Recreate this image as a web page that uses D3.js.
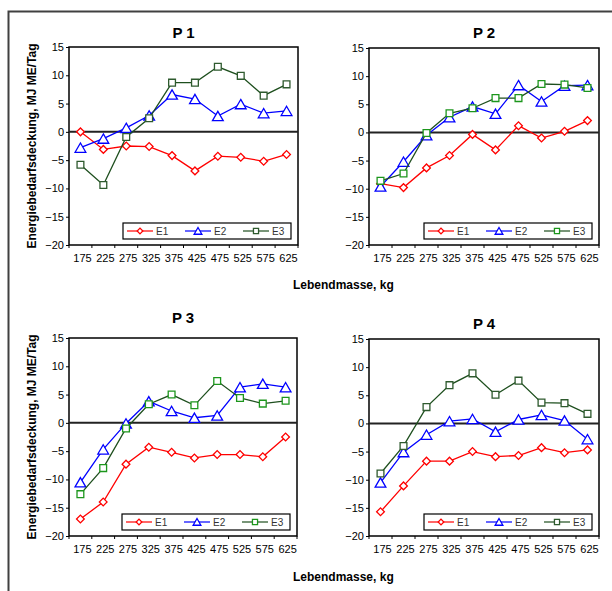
<!DOCTYPE html>
<html>
<head>
<meta charset="utf-8">
<script src="https://cdn.jsdelivr.net/npm/d3@7"></script>
<style>
  body { margin: 0; background: #fff; }
  svg text { font-family: "Liberation Sans", Arial, sans-serif; }
</style>
</head>
<body>
<div class="canvas"></div>
<script>
// data
const categories = ['175', '225', '275', '325', '375', '425', '475', '525', '575', '625'];
const yTicks = [15, 10, 5, 0, -5, -10, -15, -20];
const seriesNames = ['E1', 'E2', 'E3'];

const p1E1 = [0, -3.1, -2.5, -2.6, -4.2, -6.9, -4.3, -4.5, -5.2, -4.0];
const p1E2 = [-2.8, -1.2, 0.7, 2.9, 6.6, 5.8, 2.8, 4.9, 3.3, 3.7];
const p1E3 = [-5.8, -9.4, -0.9, 2.4, 8.7, 8.7, 11.5, 9.9, 6.4, 8.4];

const p2E1 = [-9.1, -9.8, -6.3, -4.1, -0.35, -3.1, 1.2, -1.0, 0.2, 2.1];
const p2E2 = [-9.6, -5.2, -0.5, 2.7, 4.6, 3.3, 8.4, 5.5, 8.3, 8.4];
const p2E3 = [-8.6, -7.3, -0.1, 3.4, 4.3, 6.1, 6.1, 8.6, 8.5, 7.9];

const p3E1 = [-17.0, -14.0, -7.3, -4.3, -5.2, -6.2, -5.6, -5.6, -6.0, -2.5];
const p3E2 = [-10.5, -4.7, -0.1, 3.8, 2.1, 0.9, 1.3, 6.3, 6.9, 6.3];
const p3E3 = [-12.6, -8.0, -1.0, 3.3, 5.0, 3.1, 7.4, 4.4, 3.4, 3.9];

const p4E1 = [-15.7, -11.1, -6.7, -6.7, -5.0, -5.9, -5.7, -4.3, -5.2, -4.7];
const p4E2 = [-10.5, -5.1, -2.0, 0.4, 0.8, -1.5, 0.7, 1.5, 0.5, -2.8];
const p4E3 = [-8.9, -4.0, 2.9, 6.8, 8.9, 5.1, 7.6, 3.7, 3.6, 1.7];

const W = 612, H = 591;

const svg = d3.select('.canvas')
    .append('svg')
        .attr('width', W)
        .attr('height', H);

// outer frame (top + left edge)
svg.append('path')
    .attr('d', `M8.5,${H} V11.5 H${W}`)
    .attr('fill', 'none')
    .attr('stroke', '#404040')
    .attr('stroke-width', 2);

const panels = [
    {title: 'P 1', data: [p1E1, p1E2, p1E3], left: 69, top: 47, w: 229, h: 198, titleY: 38, ylab: true, sq: '#2e5a2e'},
    {title: 'P 2', data: [p2E1, p2E2, p2E3], left: 369, top: 48, w: 230, h: 197, titleY: 38, ylab: false, sq: '#1c961c'},
    {title: 'P 3', data: [p3E1, p3E2, p3E3], left: 69, top: 338, w: 228, h: 198, titleY: 323, ylab: true, sq: '#1c961c'},
    {title: 'P 4', data: [p4E1, p4E2, p4E3], left: 369, top: 339, w: 230, h: 197, titleY: 329, ylab: false, sq: '#2e5a2e'}
];

const lineColors = ['#ff0000', '#0000ff', '#1e4f1e'];

// marker shapes (triangle moved so its box is centred on the point)
const diamond = d3.symbol().type(d3.symbolSquare).size(30)();
const triangle = d3.symbol().type(d3.symbolTriangle).size(50)();
const square = d3.symbol().type(d3.symbolSquare).size(46)();

function marker(sel, i, p) {
    if (i === 0) {
        sel.attr('d', diamond).attr('stroke', '#ff0000');
    } else if (i === 1) {
        sel.attr('d', triangle).attr('stroke', '#0000ff');
    } else {
        sel.attr('d', square).attr('stroke', p.sq);
    }
    sel.attr('fill', '#fff').attr('stroke-width', 1.3);
}

function markerShift(si) {
    return si === 0 ? ' rotate(45)' : si === 1 ? ' translate(0, 1.5)' : '';
}

panels.forEach(p => {
    const g = svg.append('g')
        .attr('transform', `translate(${p.left}, ${p.top})`);

    const x = d3.scaleBand()
        .domain(categories)
        .range([0, p.w]);

    const y = d3.scaleLinear()
        .domain([-20, 15])
        .range([p.h, 0]);

    // plot frame
    g.append('rect')
        .attr('width', p.w)
        .attr('height', p.h)
        .attr('fill', 'none')
        .attr('stroke', '#000')
        .attr('stroke-width', 1.5);

    // y axis
    const yAxis = d3.axisLeft(y)
        .tickValues(yTicks)
        .tickSize(3)
        .tickPadding(2);
    const yg = g.append('g').call(yAxis);
    yg.select('.domain').remove();
    yg.selectAll('text').attr('font-size', 11).attr('fill', '#000');

    // x axis: ticks at category boundaries
    const bounds = d3.range(categories.length + 1).map(i => i * x.step());
    g.append('g')
        .selectAll('line')
        .data(bounds)
        .enter()
        .append('line')
            .attr('x1', d => d)
            .attr('x2', d => d)
            .attr('y1', p.h)
            .attr('y2', p.h + 3)
            .attr('stroke', '#000');

    g.append('g')
        .selectAll('text')
        .data(categories)
        .enter()
        .append('text')
            .attr('x', d => x(d) + x.bandwidth() / 2 + 2)
            .attr('y', p.h + 17)
            .attr('text-anchor', 'middle')
            .attr('font-size', 11)
            .text(d => d);

    // zero line
    g.append('line')
        .attr('x1', 0)
        .attr('x2', p.w)
        .attr('y1', y(0))
        .attr('y2', y(0))
        .attr('stroke', '#222')
        .attr('stroke-width', 2);

    // series
    const line = d3.line()
        .x((d, i) => x(categories[i]) + x.bandwidth() / 2)
        .y(d => y(d));

    p.data.forEach((vals, si) => {
        g.append('path')
            .datum(vals)
            .attr('d', line)
            .attr('fill', 'none')
            .attr('stroke', lineColors[si])
            .attr('stroke-width', 1.3);

        g.append('g')
            .selectAll('path')
            .data(vals)
            .enter()
            .append('path')
                .attr('transform', (d, i) =>
                    `translate(${x(categories[i]) + x.bandwidth() / 2}, ${y(d)})` + markerShift(si))
                .call(marker, si, p);
    });

    // legend
    const lw = 168, lh = 16;
    const lg = g.append('g')
        .attr('transform', `translate(${p.w - 7 - lw}, ${p.h - 6 - lh})`);
    lg.append('rect')
        .attr('width', lw)
        .attr('height', lh)
        .attr('fill', '#fff')
        .attr('stroke', '#000')
        .attr('stroke-width', 1.2);
    seriesNames.forEach((name, si) => {
        const ox = 4 + si * 58;
        lg.append('line')
            .attr('x1', ox)
            .attr('x2', ox + 26)
            .attr('y1', lh / 2)
            .attr('y2', lh / 2)
            .attr('stroke', lineColors[si])
            .attr('stroke-width', 1.2);
        lg.append('path')
            .attr('transform', `translate(${ox + 13}, ${lh / 2})` + (si === 0 ? ' rotate(45)' : si === 1 ? ' translate(0, 1)' : ''))
            .call(marker, si, p)
            .attr('d', si === 0 ? d3.symbol().type(d3.symbolSquare).size(16)()
                : si === 1 ? d3.symbol().type(d3.symbolTriangle).size(26)()
                : d3.symbol().type(d3.symbolSquare).size(26)());
        lg.append('text')
            .attr('x', ox + 29)
            .attr('y', lh / 2 + 4)
            .attr('font-size', 10)
            .attr('fill', '#333')
            .text(name);
    });

    // title
    svg.append('text')
        .attr('x', p.left + p.w / 2)
        .attr('y', p.titleY)
        .attr('text-anchor', 'middle')
        .attr('font-size', 15)
        .attr('font-weight', 'bold')
        .text(p.title);

    // y label
    if (p.ylab) {
        svg.append('text')
            .attr('transform', `translate(36, ${p.top + p.h / 2}) rotate(-90)`)
            .attr('text-anchor', 'middle')
            .attr('font-size', 12)
            .attr('font-weight', 'bold')
            .text('Energiebedarfsdeckung, MJ ME/Tag');
    }
});

// x labels
[289, 581].forEach(yy => {
    svg.append('text')
        .attr('x', 293)
        .attr('y', yy)
        .attr('font-size', 12)
        .attr('font-weight', 'bold')
        .text('Lebendmasse, kg');
});
</script>
</body>
</html>
